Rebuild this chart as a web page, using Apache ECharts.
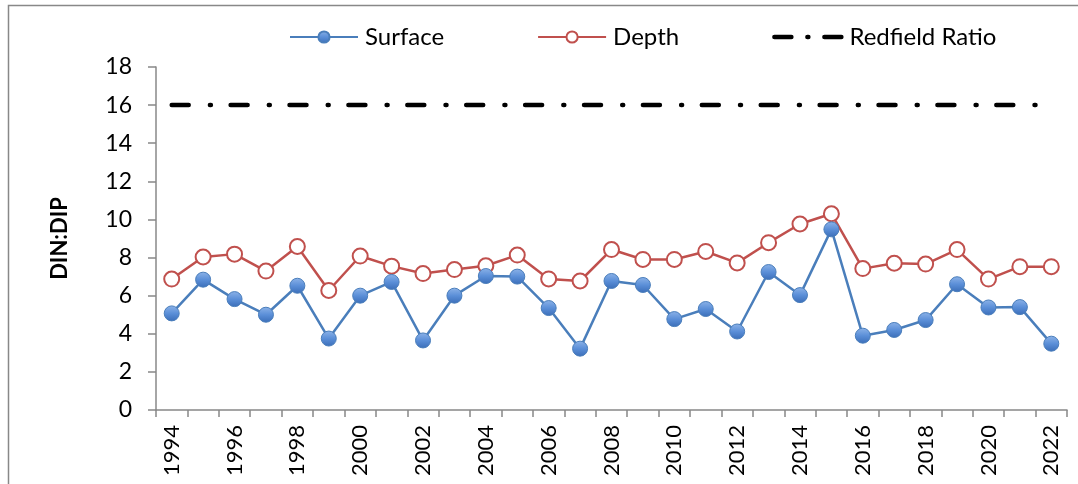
<!DOCTYPE html>
<html>
<head>
<meta charset="utf-8">
<script src="https://cdn.jsdelivr.net/npm/echarts@6/dist/echarts.min.js"></script>
<style>
html,body{margin:0;padding:0;background:#fff;}
#chart{width:1078px;height:484px;}
</style>
</head>
<body>
<div id="chart"></div>
<script>
var years = ['1994','1995','1996','1997','1998','1999','2000','2001','2002','2003','2004','2005','2006','2007','2008','2009','2010','2011','2012','2013','2014','2015','2016','2017','2018','2019','2020','2021','2022'];
var surface = [5.07, 6.84, 5.82, 5.0, 6.52, 3.75, 6.0, 6.72, 3.65, 6.0, 7.03, 7.0, 5.35, 3.22, 6.77, 6.56, 4.77, 5.3, 4.12, 7.24, 6.03, 9.48, 3.9, 4.2, 4.72, 6.6, 5.38, 5.4, 3.48];
var depth = [6.87, 8.03, 8.18, 7.29, 8.58, 6.27, 8.08, 7.55, 7.16, 7.37, 7.57, 8.13, 6.88, 6.77, 8.42, 7.9, 7.9, 8.32, 7.72, 8.78, 9.76, 10.3, 7.42, 7.7, 7.66, 8.42, 6.87, 7.52, 7.52];
var redfield = years.map(function(){ return 16; });
var yTicks = [0, 2, 4, 6, 8, 10, 12, 14, 16, 18];

var FONT = 'Lato, "Liberation Sans", sans-serif';
var chart = echarts.init(document.getElementById('chart'), null, {renderer:'canvas'});
chart.setOption({
  animation: false,
  backgroundColor: '#fff',
  textStyle: {fontFamily: FONT, color: '#000'},
  graphic: [{
    type: 'rect', silent: true,
    shape: {x: 8.5, y: 5.5, width: 1200, height: 600},
    style: {fill: 'none', stroke: '#888', lineWidth: 1.5}
  }],
  legend: {
    top: 20, left: 284, itemGap: 93, itemWidth: 68, itemHeight: 14,
    textStyle: {fontFamily: FONT, fontSize: 24, color: '#000', padding: [0, 0, 0, 2]},
    data: [
      'Surface',
      'Depth',
      {name: 'Redfield Ratio', itemStyle: {opacity: 0},
       lineStyle: {type: [17, 16, 1, 16], width: 4.5, cap: 'round', color: '#000'}}
    ]
  },
  grid: {left: 156, right: 11, top: 67, bottom: 74},
  xAxis: {
    type: 'category', data: years, boundaryGap: true,
    axisLine: {lineStyle: {color: '#888', width: 1.5}},
    axisTick: {show: true, interval: 0, length: 7, lineStyle: {color: '#888', width: 1.5}},
    axisLabel: {interval: 1, rotate: 90, margin: 15, fontSize: 22, color: '#000', fontFamily: FONT}
  },
  yAxis: {
    type: 'value', min: yTicks[0], max: yTicks[yTicks.length - 1], interval: 2,
    name: 'DIN:DIP', nameLocation: 'middle', nameGap: 85, nameRotate: 90, nameMoveOverlap: false,
    nameTextStyle: {fontSize: 22, fontWeight: 'bold', color: '#000', fontFamily: FONT},
    axisLine: {show: true, lineStyle: {color: '#888', width: 1.5}},
    axisTick: {show: true, length: 8, lineStyle: {color: '#888', width: 1.5}},
    splitLine: {show: false},
    axisLabel: {fontSize: 23, margin: 24, color: '#000', fontFamily: FONT}
  },
  series: [
    {
      name: 'Surface', type: 'line', data: surface,
      symbol: 'circle', symbolSize: 15,
      lineStyle: {color: '#4A7EBB', width: 2.5},
      itemStyle: {
        color: new echarts.graphic.LinearGradient(0, 0, 0, 1, [
          {offset: 0, color: '#8DB3E8'}, {offset: 0.5, color: '#5B8FD8'}, {offset: 1, color: '#3A6DB8'}
        ]),
        borderColor: '#4A7EBB', borderWidth: 1
      },
      z: 3
    },
    {
      name: 'Depth', type: 'line', data: depth,
      symbol: 'circle', symbolSize: 15,
      lineStyle: {color: '#C0504D', width: 2.5},
      itemStyle: {color: '#fff', borderColor: '#C0504D', borderWidth: 2},
      z: 2
    },
    {
      name: 'Redfield Ratio', type: 'line', data: redfield,
      symbol: 'none',
      lineStyle: {color: '#000', width: 4.5, type: [17, 21.2, 1, 19.7], cap: 'round'},
      itemStyle: {color: '#000'},
      z: 1
    }
  ]
});
</script>
</body>
</html>
